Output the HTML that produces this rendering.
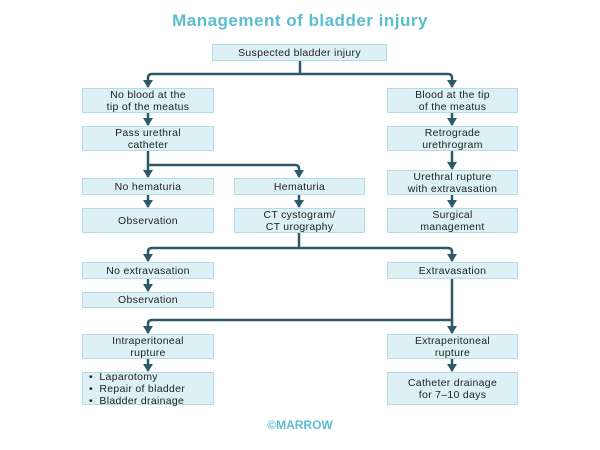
<!DOCTYPE html><html><head><style>
body{margin:0;background:#fff;width:600px;height:450px;position:relative;overflow:hidden;font-family:"Liberation Sans",sans-serif}
.t{position:absolute;left:0;width:600px;top:11px;text-align:center;color:#5bbdd2;font-weight:bold;font-size:17px;letter-spacing:0.5px}
.b{position:absolute;background:#dcf0f6;border:1px solid #b5dbe6;box-sizing:border-box;display:flex;align-items:center;justify-content:center;text-align:center;font-size:10.5px;line-height:12px;color:#222;letter-spacing:0.3px}
.m{position:absolute;left:0;width:600px;top:418px;text-align:center;color:#5bbdd2;font-weight:bold;font-size:12px}
</style></head><body>
<div class="t">Management of bladder injury</div>
<svg width="600" height="450" style="position:absolute;left:0;top:0">
<g stroke="#2c5a6a" stroke-width="2.5" fill="none" stroke-linejoin="round">
<path d="M300 61V74M148 87V78Q148 74 152 74H448Q452 74 452 78V87"/>
<path d="M148 113V125M452 113V125M148 151V177M148 165H295Q299 165 299 169V177M452 151V169"/>
<path d="M148 195V207M299 195V207M452 195V207"/>
<path d="M299 233V248H152Q148 248 148 252V261M299 248H448Q452 248 452 252V261"/>
<path d="M148 279V291M452 279V333M452 320H152Q148 320 148 324V333"/>
<path d="M148 359V371M452 359V371"/>
</g>
<g fill="#2c5a6a">
<path d="M143 80L153 80L148 88Z"/><path d="M447 80L457 80L452 88Z"/>
<path d="M143 118L153 118L148 126Z"/><path d="M447 118L457 118L452 126Z"/>
<path d="M143 170L153 170L148 178Z"/><path d="M294 170L304 170L299 178Z"/><path d="M447 162L457 162L452 170Z"/>
<path d="M143 200L153 200L148 208Z"/><path d="M294 200L304 200L299 208Z"/><path d="M447 200L457 200L452 208Z"/>
<path d="M143 254L153 254L148 262Z"/><path d="M447 254L457 254L452 262Z"/>
<path d="M143 284L153 284L148 292Z"/>
<path d="M143 326L153 326L148 334Z"/><path d="M447 326L457 326L452 334Z"/>
<path d="M143 364L153 364L148 372Z"/><path d="M447 364L457 364L452 372Z"/>
</g></svg>
<div class="b" style="left:212px;top:44px;width:175px;height:17px">Suspected bladder injury</div>
<div class="b" style="left:82px;top:88px;width:132px;height:25px">No blood at the<br>tip of the meatus</div>
<div class="b" style="left:387px;top:88px;width:131px;height:25px">Blood at the tip<br>of the meatus</div>
<div class="b" style="left:82px;top:126px;width:132px;height:25px">Pass urethral<br>catheter</div>
<div class="b" style="left:387px;top:126px;width:131px;height:25px">Retrograde<br>urethrogram</div>
<div class="b" style="left:82px;top:178px;width:132px;height:17px">No hematuria</div>
<div class="b" style="left:234px;top:178px;width:131px;height:17px">Hematuria</div>
<div class="b" style="left:387px;top:170px;width:131px;height:25px">Urethral rupture<br>with extravasation</div>
<div class="b" style="left:82px;top:208px;width:132px;height:25px">Observation</div>
<div class="b" style="left:234px;top:208px;width:131px;height:25px">CT cystogram/<br>CT urography</div>
<div class="b" style="left:387px;top:208px;width:131px;height:25px">Surgical<br>management</div>
<div class="b" style="left:82px;top:262px;width:132px;height:17px">No extravasation</div>
<div class="b" style="left:387px;top:262px;width:131px;height:17px">Extravasation</div>
<div class="b" style="left:82px;top:292px;width:132px;height:16px">Observation</div>
<div class="b" style="left:82px;top:334px;width:132px;height:25px">Intraperitoneal<br>rupture</div>
<div class="b" style="left:387px;top:334px;width:131px;height:25px">Extraperitoneal<br>rupture</div>
<div class="b" style="left:82px;top:372px;width:132px;height:33px;justify-content:flex-start;text-align:left;padding-left:6px">•&nbsp; Laparotomy<br>•&nbsp; Repair of bladder<br>•&nbsp; Bladder drainage</div>
<div class="b" style="left:387px;top:372px;width:131px;height:33px">Catheter drainage<br>for 7–10 days</div>
<div class="m">©MARROW</div>
</body></html>
